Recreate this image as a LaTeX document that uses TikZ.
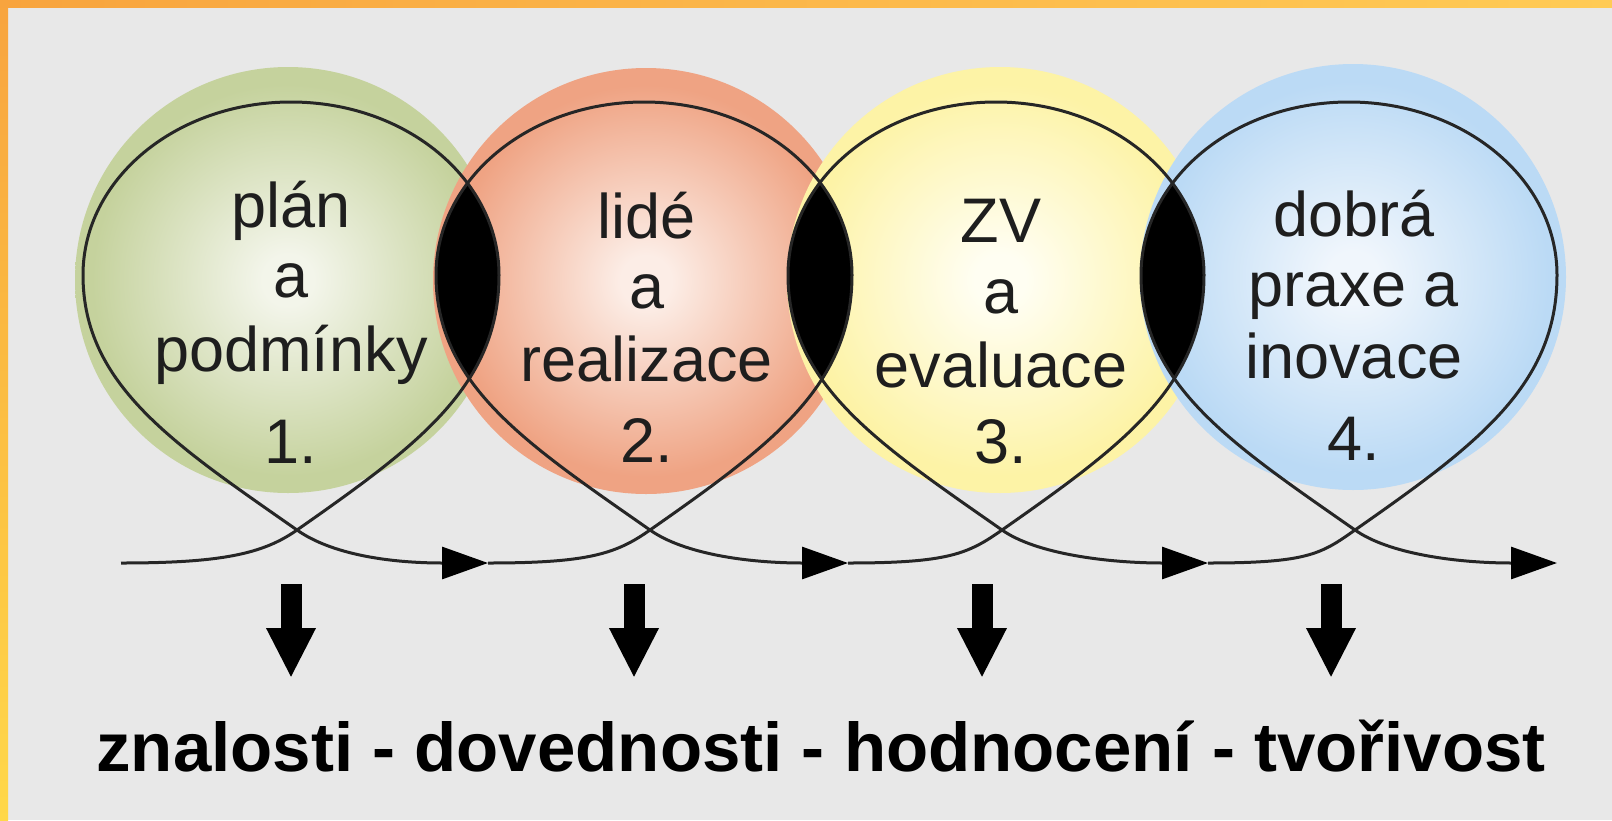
\documentclass[tikz,border=0pt]{standalone}
\usepackage{fontspec}
\setmainfont{Liberation Sans}
\usetikzlibrary{arrows.meta,calc}
\definecolor{bg}{HTML}{E8E8E8}
\definecolor{or1}{HTML}{F8A43E}
\definecolor{or2}{HTML}{FFCB55}
\definecolor{or3}{HTML}{FFD848}
\definecolor{linec}{HTML}{262626}
\definecolor{txt}{HTML}{1E1E1E}
\definecolor{gin}{HTML}{F3F5EA}
\definecolor{gout}{HTML}{C5D29D}
\definecolor{sin}{HTML}{FCEDE6}
\definecolor{sout}{HTML}{EFA383}
\definecolor{yin}{HTML}{FFFEF2}
\definecolor{yout}{HTML}{FDF3A6}
\definecolor{bin}{HTML}{F0F6FC}
\definecolor{bout}{HTML}{BBDAF5}
\colorlet{gmid}{gin!45!gout}
\colorlet{smid}{sin!45!sout}
\colorlet{ymid}{yin!45!yout}
\colorlet{bmid}{bin!45!bout}
\pgfdeclareradialshading{shgreen}{\pgfpoint{0bp}{0bp}}{color(0bp)=(gin);color(3bp)=(gin);color(14bp)=(gmid);color(23bp)=(gout);color(25bp)=(gout);color(50bp)=(gout)}
\pgfdeclareradialshading{shsalmon}{\pgfpoint{0bp}{0bp}}{color(0bp)=(sin);color(3bp)=(sin);color(14bp)=(smid);color(23bp)=(sout);color(25bp)=(sout);color(50bp)=(sout)}
\pgfdeclareradialshading{shyellow}{\pgfpoint{0bp}{0bp}}{color(0bp)=(yin);color(3bp)=(yin);color(14bp)=(ymid);color(23bp)=(yout);color(25bp)=(yout);color(50bp)=(yout)}
\pgfdeclareradialshading{shblue}{\pgfpoint{0bp}{0bp}}{color(0bp)=(bin);color(3bp)=(bin);color(14bp)=(bmid);color(23bp)=(bout);color(25bp)=(bout);color(50bp)=(bout)}
% loop from a crossing coordinate back to the same crossing
\newcommand{\looparc}[1]{.. controls ($(#1)+(123,-86)$) and ($(#1)+(202,-145)$) .. ($(#1)+(202,-255)$)
 .. controls ($(#1)+(202,-351)$) and ($(#1)+(109,-428)$) .. ($(#1)+(-6,-428)$)
 .. controls ($(#1)+(-121,-428)$) and ($(#1)+(-214,-351)$) .. ($(#1)+(-214,-255)$)
 .. controls ($(#1)+(-214,-145)$) and ($(#1)+(-123,-86)$) .. (#1)}
\begin{document}
\begin{tikzpicture}[x=1pt,y=-1pt,
  ball/.style={circle, minimum size=426pt, inner sep=0pt, draw=none, shade},
  flow/.style={draw=linec, line width=3pt, -{Triangle[length=46pt,width=32pt,color=black]}},
  blockarrow/.style={draw=black, line width=21pt, -{Triangle[length=50pt,width=46pt]}},
  ctext/.style={anchor=base, inner sep=0pt, text=txt, font=\fontsize{63}{63}\selectfont},
  btext/.style={anchor=base, inner sep=0pt, text=black, font=\bfseries\fontsize{69}{69}\selectfont}]
\useasboundingbox (0,0) rectangle (1612,820);
\fill[bg] (0,0) rectangle (1612,820);
\shade[left color=or1, right color=or2] (0,0) rectangle (1612,7);
\shade[top color=or1, bottom color=or3] (0,0) rectangle (8,820);
% circles
\node[ball, shading=shgreen]  (c1) at (288,280) {};
\node[ball, shading=shsalmon] (c2) at (646,281) {};
\node[ball, shading=shyellow] (c3) at (1000,280) {};
\node[ball, shading=shblue]   (c4) at (1353,277) {};
% crossings and arrow tips
\coordinate (s)  at (121,563);
\coordinate (x1) at (297,530);
\coordinate (x2) at (650,530);
\coordinate (x3) at (1002,530);
\coordinate (x4) at (1355,530);
\coordinate (a1) at (488,563);
\coordinate (a2) at (848,563);
\coordinate (a3) at (1208,563);
\coordinate (a4) at (1557,563);
% black lenses
\foreach \p/\q in {x1/x2, x2/x3, x3/x4}{
  \begin{scope}
    \clip (\p) \looparc{\p} -- cycle;
    \fill[black] (\q) \looparc{\q} -- cycle;
  \end{scope}
}
% flow with loops
\foreach \p/\c/\a in {s/x1/a1, a1/x2/a2, a2/x3/a3, a3/x4/a4}{
  \draw[flow] (\p) .. controls ($(\p)+(100,0)$) and ($(\c)+(-34,24)$) .. (\c)
     \looparc{\c}
     .. controls ($(\c)+(34,24)$) and ($(\a)+(-100,0)$) .. (\a);
}
% texts in circles
\node[ctext] (t1a) at (291,227) {plán};
\node[ctext] (t1b) at (291,297) {a};
\node[ctext] (t1c) at (291,371) {podmínky};
\node[ctext] (t1d) at (291,463) {1.};
\node[ctext] (t2a) at (647,238) {lidé};
\node[ctext] (t2b) at (647,308) {a};
\node[ctext] (t2c) at (647,381) {realizace};
\node[ctext] (t2d) at (647,462) {2.};
\node[ctext] (t3a) at (1001,242) {ZV};
\node[ctext] (t3b) at (1001,313) {a};
\node[ctext] (t3c) at (1001,387) {evaluace};
\node[ctext] (t3d) at (1001,463) {3.};
\node[ctext] (t4a) at (1354,236) {dobrá};
\node[ctext] (t4b) at (1354,306) {praxe a};
\node[ctext] (t4c) at (1354,378) {inovace};
\node[ctext] (t4d) at (1354,460) {4.};
% down arrows
\coordinate (d1) at (291,584);  \coordinate (e1) at (291,678);
\coordinate (d2) at (634,584);  \coordinate (e2) at (634,678);
\coordinate (d3) at (982,584);  \coordinate (e3) at (982,678);
\coordinate (d4) at (1331,584); \coordinate (e4) at (1331,678);
\foreach \i in {1,2,3,4}{ \draw[blockarrow] (d\i) -- (e\i); }
% bottom text
\node[btext] (bt) at (821,771) {znalosti - dovednosti - hodnocení - tvořivost};
\end{tikzpicture}
\end{document}
